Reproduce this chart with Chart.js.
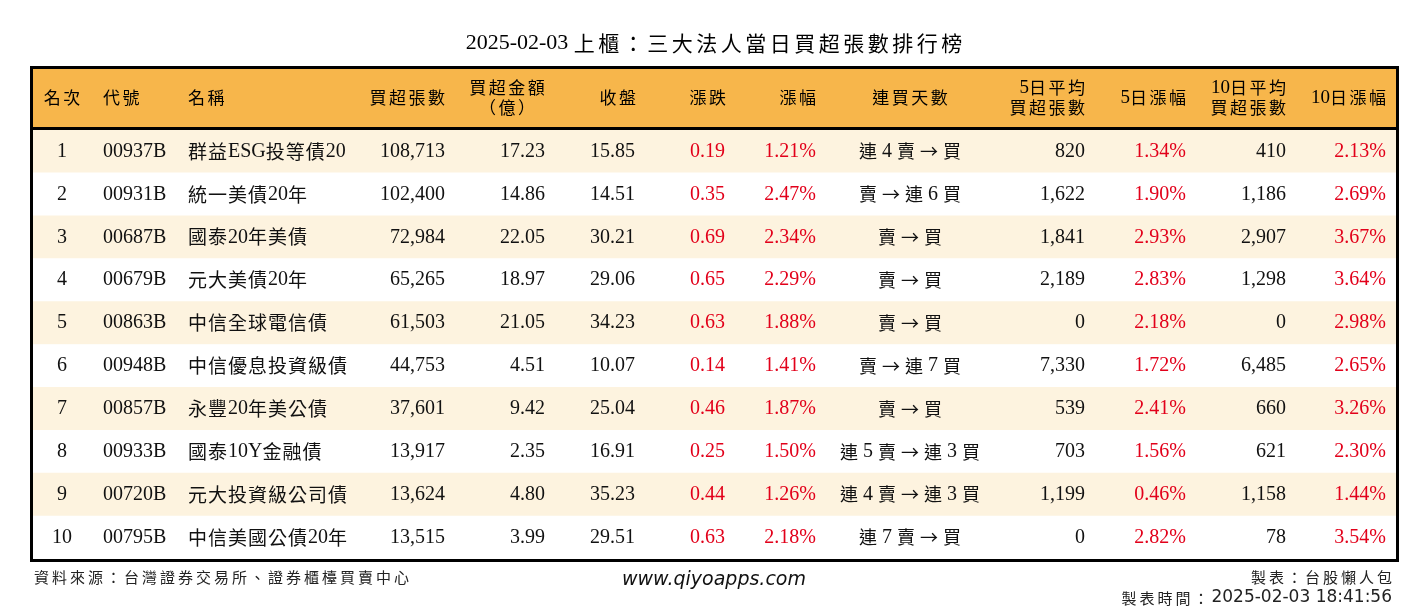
<!DOCTYPE html>
<html><head><meta charset="utf-8">
<script src="https://cdn.jsdelivr.net/npm/chart.js@4.4.1/dist/chart.umd.min.js"></script>
<style>html,body{margin:0;padding:0;background:#fff;}canvas{display:block;}</style>
</head><body>
<canvas id="c" width="1428" height="612"></canvas>
<script>
const titleText = '2025-02-03 上櫃：三大法人當日買超張數排行榜';
const ranks = [1,2,3,4,5,6,7,8,9,10];
const codes = ['00937B','00931B','00687B','00679B','00863B','00948B','00857B','00933B','00720B','00795B'];
const names = ['群益ESG投等債20','統一美債20年','國泰20年美債','元大美債20年','中信全球電信債','中信優息投資級債','永豐20年美公債','國泰10Y金融債','元大投資級公司債','中信美國公債20年'];
const buyVol = [108713,102400,72984,65265,61503,44753,37601,13917,13624,13515];
const buyAmt = [17.23,14.86,22.05,18.97,21.05,4.51,9.42,2.35,4.80,3.99];
const closePx = [15.85,14.51,30.21,29.06,34.23,10.07,25.04,16.91,35.23,29.51];
const change = [0.19,0.35,0.69,0.65,0.63,0.14,0.46,0.25,0.44,0.63];
const pct = [1.21,2.47,2.34,2.29,1.88,1.41,1.87,1.50,1.26,2.18];
const streak = ['連 4 賣 → 買','賣 → 連 6 買','賣 → 買','賣 → 買','賣 → 買','賣 → 連 7 買','賣 → 買','連 5 賣 → 連 3 買','連 4 賣 → 連 3 買','連 7 賣 → 買'];
const avg5 = [820,1622,1841,2189,0,7330,539,703,1199,0];
const pct5 = [1.34,1.90,2.93,2.83,2.18,1.72,2.41,1.56,0.46,2.82];
const avg10 = [410,1186,2907,1298,0,6485,660,621,1158,78];
const pct10 = [2.13,2.69,3.67,3.64,2.98,2.65,3.26,2.30,1.44,3.54];
const rowBand = [1,1,1,1,1,1,1,1,1,1];
const headers = [['名次'],['代號'],['名稱'],['買超張數'],['買超金額','（億）'],['收盤'],['漲跌'],['漲幅'],['連買天數'],['5日平均','買超張數'],['5日漲幅'],['10日平均','買超張數'],['10日漲幅']];
const footLeft = '資料來源：台灣證券交易所、證券櫃檯買賣中心';
const footUrl = 'www.qiyoapps.com';
const footRight1 = '製表：台股懶人包';
const footRight2 = '製表時間：2025-02-03 18:41:56';

const RED = '#E2001A', BLACK = '#111111';
const fmtInt = v => v.toLocaleString('en-US');
const fmt2 = v => v.toFixed(2);
const fmtPct = v => v.toFixed(2) + '%';

const cols = [
  {x:62, align:'center', hx:62, ha:'center', get:i=>String(ranks[i])},
  {x:103, align:'left', hx:103, ha:'left', get:i=>codes[i]},
  {x:188, align:'left', hx:188, ha:'left', get:i=>names[i]},
  {x:445, align:'right', hx:445, ha:'right', get:i=>fmtInt(buyVol[i])},
  {x:545, align:'right', hx:507, ha:'center', get:i=>fmt2(buyAmt[i])},
  {x:635, align:'right', hx:636, ha:'right', get:i=>fmt2(closePx[i])},
  {x:725, align:'right', hx:726, ha:'right', get:i=>fmt2(change[i]), red:true},
  {x:816, align:'right', hx:816, ha:'right', get:i=>fmtPct(pct[i]), red:true},
  {x:910, align:'center', hx:910, ha:'center', get:i=>streak[i]},
  {x:1085, align:'right', hx:1085, ha:'right', get:i=>fmtInt(avg5[i])},
  {x:1186, align:'right', hx:1186, ha:'right', get:i=>fmtPct(pct5[i]), red:true},
  {x:1286, align:'right', hx:1286, ha:'right', get:i=>fmtInt(avg10[i])},
  {x:1386, align:'right', hx:1386, ha:'right', get:i=>fmtPct(pct10[i]), red:true}
];

function isCJK(ch){
  const c = ch.codePointAt(0);
  return c===0x2192 || (c>=0x2E80 && c<=0x9FFF) || (c>=0xF900 && c<=0xFAFF) || (c>=0xFF00 && c<=0xFFEF) || (c>=0x3000 && c<=0x303F);
}
function splitRuns(t){
  const out=[]; let cur='', curC=null;
  for (const ch of t){ const c=isCJK(ch); if(curC===null||c===curC){cur+=ch;curC=c;} else {out.push({t:cur,c:curC}); cur=ch; curC=c;} }
  if(cur) out.push({t:cur,c:curC});
  return out;
}
function drawRich(ctx, text, x, y, align, st){
  const runs = splitRuns(text);
  const total = [...text].length;
  let idx=0, w=0;
  const pieces=[];
  for (const r of runs){
    if (r.c){
      ctx.font = st.cjk;
      for (const ch of r.t){ idx++; const cw = ctx.measureText(ch).width + (idx<total ? st.sp : 0); pieces.push({t:ch,f:st.cjk,w:cw}); w+=cw; }
    } else {
      ctx.font = st.lat;
      const lw = ctx.measureText(r.t).width; idx += [...r.t].length;
      pieces.push({t:r.t,f:st.lat,w:lw}); w+=lw;
    }
  }
  let sx = align==='left'? x : align==='right'? x-w : x-w/2;
  ctx.fillStyle = st.color; ctx.textAlign='left'; ctx.textBaseline='middle';
  for (const p of pieces){
    ctx.font = p.f;
    ctx.fillText(p.t, sx, y);
    sx += p.w;
  }
}

const SERIF = "'Liberation Serif', 'Times New Roman', serif";
const CJKF = "'Noto Sans CJK TC', 'Noto Sans CJK SC', sans-serif";

const tablePlugin = {
  id:'table',
  beforeDatasetsDraw(chart){
    const {ctx, chartArea:a} = chart;
    ctx.save();
    ctx.fillStyle = '#F7B64B';
    ctx.fillRect(a.left, 67, a.right-a.left, a.top-67);
    ctx.restore();
  },
  afterDatasetsDraw(chart){
    const {ctx, chartArea:a, scales:{y}} = chart;
    ctx.save();
    drawRich(ctx, titleText, 714, 43, 'center', {lat:'22px '+SERIF, cjk:'21px '+CJKF, sp:3.5, color:'#000'});
    const hst = {lat:'19px '+SERIF, cjk:'17px '+CJKF, sp:2.5, color:'#000'};
    headers.forEach((h,k)=>{
      const c = cols[k];
      if (h.length===1) drawRich(ctx, h[0], c.hx, 98, c.ha, hst);
      else { drawRich(ctx, h[0], c.hx, 88, c.ha, hst); drawRich(ctx, h[1], c.hx, 108, c.ha, hst); }
    });
    const bst = {lat:'20px '+SERIF, cjk:'19px '+CJKF, sp:1, color:BLACK};
    const sst = {lat:'20px '+SERIF, cjk:'18px '+CJKF, sp:0, color:BLACK};
    ranks.forEach((r,i)=>{
      const yy = y.getPixelForValue(i);
      cols.forEach((c,k)=>{
        const st = Object.assign({}, k===8 ? sst : bst, {color: c.red ? RED : BLACK});
        drawRich(ctx, c.get(i), c.x, yy, c.align, st);
      });
    });
    ctx.strokeStyle = '#000'; ctx.lineWidth = 3;
    ctx.strokeRect(a.left-1.5, 67.5, a.right-a.left+3, a.bottom-67.5+1.5);
    ctx.beginPath(); ctx.moveTo(a.left, a.top-1.5); ctx.lineTo(a.right, a.top-1.5); ctx.stroke();
    const fst = {lat:'16px '+SERIF, cjk:'15px '+CJKF, sp:3, color:'#222'};
    drawRich(ctx, footLeft, 34, 577, 'left', fst);
    ctx.font = "italic 19px 'DejaVu Sans', Verdana, sans-serif";
    ctx.fillStyle = '#111'; ctx.textAlign='center'; ctx.textBaseline='middle';
    ctx.fillText(footUrl, 714, 580);
    const rst = {lat:"17px 'DejaVu Sans', sans-serif", cjk:'15px '+CJKF, sp:3, color:'#222'};
    drawRich(ctx, footRight1, 1392, 577, 'right', rst);
    drawRich(ctx, footRight2, 1392, 598, 'right', rst);
    ctx.restore();
  }
};

new Chart(document.getElementById('c'), {
  type:'bar',
  data:{ labels: ranks.map(String), datasets:[{
    data: rowBand,
    backgroundColor: c => c.dataIndex % 2 === 0 ? '#FDF3DF' : '#FFFFFF',
    borderWidth:0, barPercentage:1, categoryPercentage:1
  }]},
  options:{
    indexAxis:'y', responsive:false, animation:false, events:[],
    layout:{padding:{left:33, right:32, top:130, bottom:53}},
    scales:{ x:{display:false, min:0, max:1}, y:{display:false} },
    plugins:{ legend:{display:false}, tooltip:{enabled:false}, title:{display:false} }
  },
  plugins:[tablePlugin]
});
</script>
</body></html>
